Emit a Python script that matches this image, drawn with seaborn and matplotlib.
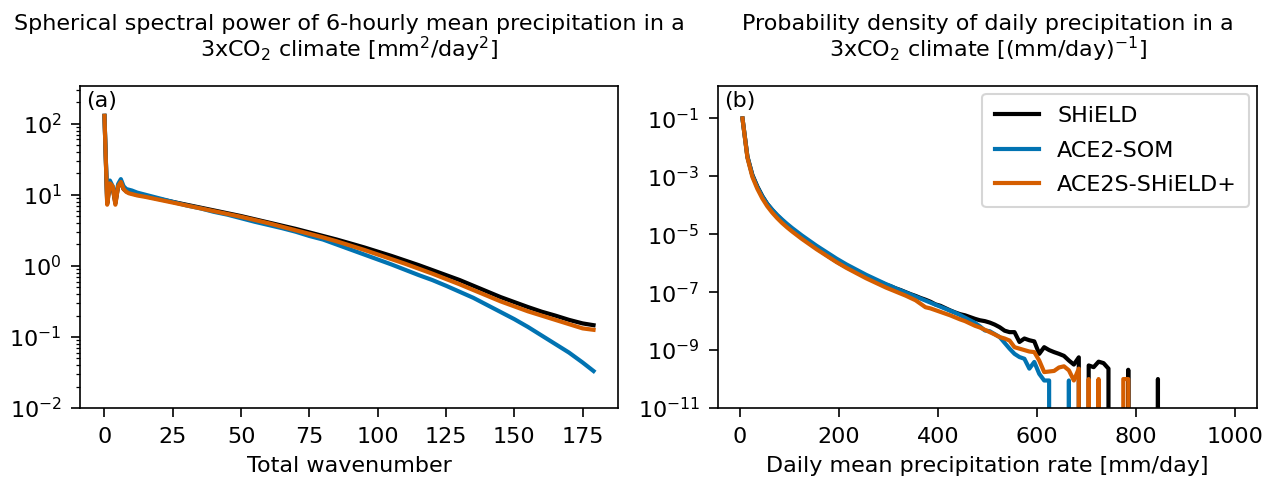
import numpy as np
import matplotlib
matplotlib.use("Agg")
import matplotlib.pyplot as plt
from matplotlib.ticker import FixedLocator, NullLocator
import seaborn as sns

FS = 10.7
plt.rcParams["font.family"] = ["DejaVu Sans"]
plt.rcParams.update({
    "font.size": FS,
    "axes.titlesize": FS,
    "axes.labelsize": FS,
    "xtick.labelsize": FS,
    "ytick.labelsize": FS,
    "legend.fontsize": FS,
    "xtick.major.size": 4.3,
    "ytick.major.size": 4.3,
    "xtick.major.pad": 5.0,
    "ytick.major.pad": 4.5,
    "xtick.minor.size": 2.0,
    "ytick.minor.size": 2.0,
})

# ---------------------------------------------------------------------------
# Panel (a): spherical power spectrum of 6-hourly precipitation (log10 values)
# ---------------------------------------------------------------------------
wavenumber = [0, 1, 2, 3, 4, 5, 6, 7, 8, 9, 10, 12, 15, 20, 25, 30, 35, 40, 45,
              50, 55, 60, 65, 70, 75, 80, 85, 90, 95, 100, 105, 110, 115, 120,
              125, 130, 135, 140, 145, 150, 155, 160, 165, 170, 175, 179]

shield_power_log10 = [2.11, 0.88, 1.15, 1.10, 0.88, 1.12, 1.17, 1.08, 1.05, 1.03,
                      1.02, 1.00, 0.98, 0.94, 0.90, 0.86, 0.82, 0.78, 0.74, 0.70,
                      0.655, 0.61, 0.565, 0.52, 0.47, 0.42, 0.37, 0.315, 0.26,
                      0.20, 0.14, 0.075, 0.01, -0.06, -0.13, -0.20, -0.28, -0.36,
                      -0.44, -0.51, -0.58, -0.645, -0.70, -0.76, -0.81, -0.835]

som_power_log10 = [2.11, 0.92, 1.20, 1.12, 0.92, 1.15, 1.22, 1.12, 1.08, 1.07,
                   1.06, 1.03, 1.00, 0.95, 0.90, 0.85, 0.81, 0.76, 0.72, 0.67,
                   0.62, 0.575, 0.53, 0.48, 0.42, 0.37, 0.30, 0.23, 0.16, 0.09,
                   0.02, -0.055, -0.13, -0.20, -0.28, -0.365, -0.45, -0.55,
                   -0.65, -0.75, -0.86, -0.98, -1.10, -1.22, -1.36, -1.48]

shieldplus_power_log10 = [2.11, 0.86, 1.16, 1.12, 0.86, 1.12, 1.18, 1.08, 1.04,
                          1.02, 1.01, 0.99, 0.97, 0.93, 0.89, 0.85, 0.81, 0.77,
                          0.73, 0.69, 0.645, 0.60, 0.55, 0.50, 0.45, 0.40, 0.345,
                          0.285, 0.225, 0.16, 0.095, 0.03, -0.04, -0.11, -0.185,
                          -0.26, -0.34, -0.42, -0.50, -0.57, -0.64, -0.70, -0.76,
                          -0.82, -0.88, -0.90]

# ---------------------------------------------------------------------------
# Panel (b): PDF of daily precipitation, 10 mm/day bins (log10 density,
# None marks an empty bin)
# ---------------------------------------------------------------------------
bin_centers = np.arange(5, 1000, 10)

shield_pdf_log10 = [
    -1.00, -2.32, -2.95, -3.35, -3.68, -3.95, -4.16, -4.35, -4.52, -4.67,
    -4.82, -4.96, -5.10, -5.23, -5.36, -5.48, -5.60, -5.72, -5.83, -5.94,
    -6.04, -6.13, -6.22, -6.30, -6.38, -6.46, -6.53, -6.60, -6.67, -6.74,
    -6.80, -6.87, -6.93, -7.00, -7.07, -7.13, -7.20, -7.26, -7.33, -7.42,
    -7.47, -7.55, -7.63, -7.70, -7.76, -7.80, -7.86, -7.92, -7.97, -8.00,
    -8.05, -8.12, -8.21, -8.33, -8.38, -8.38, -8.72, -8.60, -8.66, -8.70,
    -9.13, -8.90, -9.00, -9.07, -9.13, -9.20, -9.36, -9.50, -9.25, None,
    -9.53, -9.59, -9.40, -9.45, -9.64, None, None, None, -9.68, None,
    None, None, None, None, -10.0, None, None, None, None, None,
    None, None, None, None, None, None, None, None, None, None]

som_pdf_log10 = [
    -1.00, -2.33, -2.97, -3.37, -3.69, -3.95, -4.15, -4.33, -4.49, -4.64,
    -4.78, -4.91, -5.04, -5.16, -5.28, -5.40, -5.51, -5.62, -5.73, -5.84,
    -5.94, -6.04, -6.13, -6.22, -6.31, -6.40, -6.48, -6.56, -6.64, -6.72,
    -6.79, -6.87, -6.94, -7.01, -7.08, -7.15, -7.22, -7.29, -7.36, -7.43,
    -7.50, -7.57, -7.64, -7.71, -7.79, -7.88, -7.97, -8.06, -8.18, -8.32,
    -8.35, -8.45, -8.55, -8.75, -8.95, -9.13, -9.24, -9.30, -9.64, -9.41,
    -9.82, -10.05, -10.05, None, None, None, -10.05, None, None, None,
    None, None, None, None, None, None, None, None, None, None,
    None, None, None, None, None, None, None, None, None, None,
    None, None, None, None, None, None, None, None, None, None]

shieldplus_pdf_log10 = [
    -1.00, -2.36, -3.02, -3.43, -3.76, -4.03, -4.25, -4.44, -4.61, -4.76,
    -4.90, -5.03, -5.16, -5.28, -5.40, -5.52, -5.63, -5.74, -5.85, -5.96,
    -6.06, -6.16, -6.25, -6.34, -6.43, -6.52, -6.60, -6.68, -6.76, -6.84,
    -6.91, -6.98, -7.05, -7.12, -7.20, -7.28, -7.40, -7.52, -7.56, -7.62,
    -7.68, -7.74, -7.80, -7.87, -7.94, -8.00, -8.08, -8.16, -8.22, -8.30,
    -8.38, -8.46, -8.55, -8.60, -8.67, -8.90, -8.95, -9.00, -9.05, -9.07,
    -9.36, -9.76, -9.74, -9.72, -9.60, -9.56, -9.70, -10.05, -9.64, None,
    -10.0, None, -10.0, None, None, None, None, -10.0, -10.0, None,
    None, None, None, None, None, None, None, None, None, None,
    None, None, None, None, None, None, None, None, None, None]

labels = ["SHiELD", "ACE2-SOM", "ACE2S-SHiELD+"]
colors = ["black", "#0173B2", "#D55E00"]


def from_log10(values):
    """Convert log10 values to linear ones; empty bins become zero."""
    arr = np.array([np.nan if v is None else v for v in values], dtype=float)
    return np.where(np.isnan(arr), 0.0, np.power(10.0, arr))


fig = plt.figure(figsize=(1279 / 150, 486 / 150), dpi=150)
ax1 = fig.add_axes([80 / 1279, 78 / 486, 538 / 1279, 322 / 486])
ax2 = fig.add_axes([718 / 1279, 78 / 486, 539 / 1279, 322 / 486])

lw = 2.0
for series, lab, col in zip(
        [shield_power_log10, som_power_log10, shieldplus_power_log10],
        labels, colors):
    sns.lineplot(x=np.array(wavenumber, dtype=float), y=from_log10(series),
                 color=col, linewidth=lw, label=lab, ax=ax1, legend=False)

for series, lab, col in zip(
        [shield_pdf_log10, som_pdf_log10, shieldplus_pdf_log10],
        labels, colors):
    sns.lineplot(x=bin_centers.astype(float), y=from_log10(series),
                 color=col, linewidth=lw, label=lab, ax=ax2, legend=False)

# Panel (a) axes
ax1.set_yscale("log")
ax1.set_ylim(1e-2, 10 ** 2.53)
ax1.set_xticks([0, 25, 50, 75, 100, 125, 150, 175])
ax1.set_xlabel("Total wavenumber")
ax1.set_ylabel("")
ax1.set_title("Spherical spectral power of 6-hourly mean precipitation in a\n"
              "3xCO$_2$ climate [mm$^2$/day$^2$]", pad=14, linespacing=1.0)
ax1.text(0.012, 0.985, "(a)", transform=ax1.transAxes, ha="left", va="top")

# Panel (b) axes
ax2.set_yscale("log")
ax2.set_xlim(-44.5, 1045.3)
ax2.set_ylim(1e-11, 10 ** 0.12)
ax2.yaxis.set_major_locator(FixedLocator([1e-11, 1e-9, 1e-7, 1e-5, 1e-3, 1e-1]))
ax2.yaxis.set_minor_locator(NullLocator())
ax2.set_xticks([0, 200, 400, 600, 800, 1000])
ax2.set_xlabel("Daily mean precipitation rate [mm/day]")
ax2.set_ylabel("")
ax2.set_title("Probability density of daily precipitation in a\n"
              "3xCO$_2$ climate [(mm/day)$^{-1}$]", pad=14, linespacing=1.0)
ax2.text(0.012, 0.985, "(b)", transform=ax2.transAxes, ha="left", va="top")
ax2.legend(loc="upper right", labelspacing=0.65, borderpad=0.55,
           borderaxespad=0.35)

fig.savefig("out.png", dpi=150)
